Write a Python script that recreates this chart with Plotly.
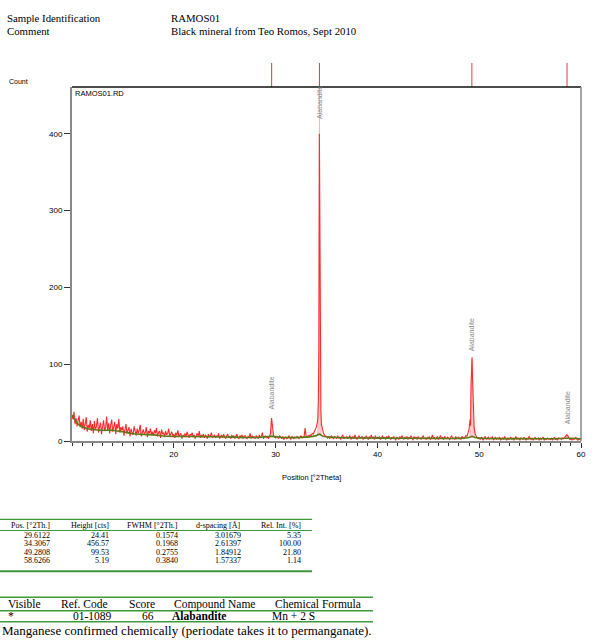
import plotly.graph_objects as go

# ---------------- data ----------------
scan_start = 10.0
scan_step = 0.1
scan_counts = [
    34, 28, 38, 22, 30, 19, 27, 33, 18, 25,
    16, 29, 14, 24, 31, 12, 21, 17, 27, 13,
    22, 10, 26, 15, 19, 30, 11, 18, 24, 9,
    20, 27, 13, 17, 32, 14, 23, 10, 21, 28,
    12, 19, 25, 9, 22, 16, 29, 11, 18, 14,
    19, 7, 15, 22, 10, 13, 18, 6, 16, 11,
    8, 19, 12, 7, 16, 10, 14, 21, 6, 13,
    15, 9, 11, 18, 5, 13, 10, 16, 8, 12,
    7, 14, 10, 17, 6, 11, 13, 4, 15, 9,
    11, 5, 13, 8, 10, 16, 6, 9, 12, 7,
    9, 4, 11, 7, 14, 6, 8, 10, 3, 8,
    6, 10, 5, 12, 8, 4, 9, 7, 11, 5,
    8, 3, 7, 10, 6, 13, 4, 8, 5, 9,
    4, 8, 6, 3, 9, 5, 7, 11, 4, 6,
    8, 4, 7, 5, 10, 3, 6, 8, 4, 9,
    5, 3, 7, 9, 4, 6, 3, 8, 5, 7,
    3, 6, 9, 4, 3, 7, 5, 8, 3, 6,
    7, 4, 3, 6, 5, 10, 3, 7, 4, 6,
    3, 7, 5, 3, 8, 4, 6, 11, 3, 5,
    7, 4, 6, 3, 8, 10, 30, 16, 7, 5,
    4, 6, 4, 3, 7, 5, 3, 6, 2, 4,
    5, 3, 4, 7, 3, 2, 6, 4, 3, 5,
    4, 6, 4, 3, 5, 7, 4, 5, 6, 17,
    6, 5, 7, 6, 8, 7, 10, 9, 12, 14,
    18, 24, 55, 400, 90, 22, 14, 10, 8, 6,
    6, 4, 6, 3, 5, 7, 4, 3, 6, 5,
    3, 7, 4, 5, 2, 6, 8, 3, 5, 4,
    6, 3, 5, 7, 2, 4, 6, 3, 8, 4,
    2, 5, 7, 3, 4, 6, 2, 5, 3, 7,
    4, 2, 6, 3, 8, 4, 5, 2, 7, 3,
    5, 3, 6, 2, 4, 7, 3, 5, 2, 6,
    3, 7, 4, 2, 5, 3, 6, 4, 1, 5,
    4, 2, 6, 3, 7, 4, 2, 5, 3, 6,
    2, 5, 3, 7, 4, 1, 6, 3, 5, 2,
    6, 3, 4, 2, 5, 7, 3, 4, 2, 5,
    3, 6, 2, 4, 8, 3, 5, 2, 4, 6,
    2, 4, 7, 3, 5, 2, 6, 4, 3, 5,
    4, 2, 5, 7, 3, 4, 2, 6, 3, 4,
    5, 3, 2, 6, 4, 3, 5, 7, 6, 10,
    15, 28, 75, 109, 50, 18, 9, 6, 4, 3,
    4, 2, 5, 3, 1, 4, 6, 2, 3, 5,
    2, 4, 3, 6, 1, 3, 5, 2, 4, 3,
    5, 1, 3, 4, 2, 6, 3, 1, 4, 2,
    3, 5, 2, 4, 1, 3, 6, 2, 4, 3,
    1, 4, 3, 2, 5, 3, 1, 4, 2, 6,
    3, 2, 4, 1, 3, 5, 2, 3, 4, 1,
    4, 2, 3, 5, 1, 3, 2, 4, 3, 2,
    2, 4, 1, 3, 5, 2, 3, 1, 4, 3,
    3, 2, 4, 3, 5, 7, 8, 7, 4, 2,
    3, 1, 4, 2, 3, 5, 2, 1, 3, 2,
    3,
]
# extra finely sampled points across the two strongest reflections
fine_2theta = [34.15, 34.25, 34.35, 34.45, 49.15, 49.25, 49.35, 49.45]
fine_counts = [30, 120, 255, 40, 20, 100, 80, 32]

# fitted background (green)
bg_2theta = [10, 10.3, 10.6, 11, 11.5, 12, 13, 14, 15, 16, 17, 18, 19, 20, 22, 24, 26, 28,
             29.6, 31, 33, 34.0, 34.3, 34.6, 36, 38, 40, 42, 44, 46, 48, 49.0, 49.3, 49.6,
             51, 53, 55, 57, 58.6, 60]
bg_counts = [34, 27, 22, 18.5, 16, 15, 14, 14, 12, 9.5, 8.5, 8, 6.5, 6, 5.8, 5.5, 5, 4.5,
             6, 4.5, 5, 7, 9, 6.5, 4.5, 4, 3.8, 3.6, 3.5, 3.4, 3.4, 4.5, 6, 4.5,
             3.2, 3.1, 3.0, 3.0, 3.6, 3.0]

# fitted peak profiles (pink)
profile_2theta = [
    [29.47, 29.55, 29.59, 29.61, 29.64, 29.68, 29.76],
    [34.10, 34.20, 34.26, 34.29, 34.307, 34.33, 34.36, 34.41, 34.50],
    [49.05, 49.16, 49.23, 49.28, 49.33, 49.40, 49.55],
    [58.40, 58.52, 58.63, 58.74, 58.86],
]
profile_counts = [
    [5, 9, 22, 30, 22, 9, 5],
    [7, 25, 120, 380, 465, 330, 160, 40, 7],
    [4, 20, 70, 106, 75, 30, 4],
    [3, 5, 8.5, 5, 3],
]

# peak list
peak_pos = [29.6122, 34.3067, 49.2808, 58.6266]
peak_height = [24.41, 456.57, 99.53, 5.19]
peak_fwhm = [0.1574, 0.1968, 0.2755, 0.3840]
peak_d = [3.01679, 2.61397, 1.84912, 1.57337]
peak_relint = [5.35, 100.00, 21.80, 1.14]
peak_phase = ["Alabandite", "Alabandite", "Alabandite", "Alabandite"]

# reference pattern stick positions (top markers)
ref_pos = [29.6122, 34.3067, 49.2808, 58.6266]

x_ticks = [20, 30, 40, 50, 60]
y_ticks = [0, 100, 200, 300, 400]

table1_headers = ["Pos. [°2Th.]", "Height [cts]", "FWHM [°2Th.]", "d-spacing [Å]", "Rel. Int. [%]"]
table2_headers = ["Visible", "Ref. Code", "Score", "Compound Name", "Chemical Formula"]
table2_row = ["*", "01-1089", "66", "<b>Alabandite</b>", "Mn + 2 S"]

header_labels = ["Sample Identification", "Comment"]
header_values = ["RAMOS01", "Black mineral from Teo Romos, Sept 2010"]
footer_note = "Manganese confirmed chemically (periodate takes it to permanganate)."

# ---------------- layout helpers ----------------
W, H = 600, 642
PL, PR, PT, PB = 72, 581, 87, 441


def px(x):
    return (x - PL) / (PR - PL)


def py(y):
    return (PB - y) / (PB - PT)


SERIF = "Liberation Serif, Times New Roman, serif"
SANS = "Liberation Sans, Arial, sans-serif"
INK = "#000000"

# merge scan grid with fine points
scan_x = [round(scan_start + i * scan_step, 3) for i in range(len(scan_counts))]
pts = sorted(list(zip(scan_x, scan_counts)) + list(zip(fine_2theta, fine_counts)))
sx = [p[0] for p in pts]
sy = [p[1] for p in pts]

fig = go.Figure()

for xs, ys in zip(profile_2theta, profile_counts):
    fig.add_trace(go.Scatter(x=xs, y=ys, mode="lines", fill="toself",
                             fillcolor="rgba(238,160,160,0.5)",
                             line=dict(color="rgba(238,160,160,0.5)", width=1),
                             hoverinfo="skip", showlegend=False))

fig.add_trace(go.Scatter(x=sx, y=sy, mode="lines",
                         line=dict(color="#ff2a2a", width=1.1),
                         showlegend=False))
fig.add_trace(go.Scatter(x=bg_2theta, y=bg_counts, mode="lines",
                         line=dict(color="#5e7a18", width=1.6, shape="spline"),
                         showlegend=False))

shapes = []
# top reference markers
for p in ref_pos:
    shapes.append(dict(type="line", xref="x", yref="paper", x0=p, x1=p,
                       y0=1, y1=py(63), line=dict(color="#e23a3a", width=1)))
# frame: top black, right gray
shapes.append(dict(type="line", xref="paper", yref="paper", x0=0, x1=1, y0=1, y1=1,
                   line=dict(color="#111", width=1.5)))
shapes.append(dict(type="line", xref="paper", yref="paper", x0=1, x1=1, y0=0, y1=1,
                   line=dict(color="#888", width=1.5)))

ann = []


def text(xp, yp, s, size, family, anchor="left", color=INK, **kw):
    ann.append(dict(x=px(xp), y=py(yp), xref="paper", yref="paper", text=s,
                    showarrow=False, xanchor=anchor, yanchor="middle", borderpad=0,
                    font=dict(family=family, size=size, color=color), **kw))


# peak labels
label_bottom = [40, 418, 116, 20]
for p, lb, name in zip(peak_pos, label_bottom, peak_phase):
    ann.append(dict(x=p, y=lb, xref="x", yref="y", text=name, textangle=-90,
                    showarrow=False, xanchor="center", yanchor="bottom", borderpad=0,
                    font=dict(family=SANS, size=7, color="#8a8a8a")))

ann.append(dict(x=px(74), y=py(88), xref="paper", yref="paper", text="RAMOS01.RD",
                showarrow=False, xanchor="left", yanchor="top", borderpad=0,
                font=dict(family=SANS, size=7.5, color=INK)))
text(8, 82, "Count", 7, SANS)
text(311, 477, "Position [°2Theta]", 7.5, SANS, anchor="center")

# header
for i, (lab, val) in enumerate(zip(header_labels, header_values)):
    yy = 18 + i * 13.5
    text(6, yy, lab, 10.8, SERIF)
    text(170, yy, val, 10.8, SERIF)

GREEN = "#3c9a3c"
# table 1
t1_right = [51, 110, 179, 242, 302]
for h, r in zip(table1_headers, t1_right):
    text(r, 525, h, 8, SERIF, anchor="right")
row_y = [535, 543.7, 552, 560.3]
for i in range(len(peak_pos)):
    vals = [f"{peak_pos[i]:.4f}", f"{peak_height[i]:.2f}", f"{peak_fwhm[i]:.4f}",
            f"{peak_d[i]:.5f}", f"{peak_relint[i]:.2f}"]
    for v, r in zip(vals, t1_right):
        text(r, row_y[i], v, 8, SERIF, anchor="right")
for yy, wdt in [(519.3, 1.2), (530.5, 1.0), (571.2, 2.0)]:
    shapes.append(dict(type="line", xref="paper", yref="paper", x0=px(0), x1=px(312),
                       y0=py(yy), y1=py(yy), line=dict(color=GREEN, width=wdt)))

# table 2
t2_head_x = [7, 60, 128, 173, 274]
for h, xx in zip(table2_headers, t2_head_x):
    text(xx, 604, h, 11.5, SERIF)
t2_row_x = [(7, "left"), (113, "right"), (155, "right"), (171, "left"), (271, "left")]
for v, (xx, anc) in zip(table2_row, t2_row_x):
    text(xx, 616, v, 11.5, SERIF, anchor=anc)
for yy in [597.3, 610.7, 621.7]:
    shapes.append(dict(type="line", xref="paper", yref="paper", x0=px(0), x1=px(373),
                       y0=py(yy), y1=py(yy), line=dict(color=GREEN, width=1.6)))
text(1, 630, footer_note, 13, SERIF)

fig.update_layout(
    width=W, height=H, autosize=False,
    margin=dict(l=PL, r=W - PR, t=PT, b=H - PB, pad=0),
    paper_bgcolor="white", plot_bgcolor="white",
    showlegend=False,
    shapes=shapes, annotations=ann,
    xaxis=dict(range=[10, 60], tickmode="array", tickvals=x_ticks,
               ticks="outside", ticklen=5, tickcolor="#333", tickwidth=1,
               showgrid=False, zeroline=False, showline=True, linecolor="#888", linewidth=1.5,
               tickfont=dict(family=SANS, size=8, color=INK),
               minor=dict(dtick=1, tick0=0, ticks="outside", ticklen=3, tickcolor="#333",
                          showgrid=False)),
    yaxis=dict(range=[0, 461], tickmode="array", tickvals=y_ticks,
               ticks="outside", ticklen=6, tickcolor="#333", tickwidth=1,
               showgrid=False, zeroline=False, showline=True, linecolor="#888", linewidth=2,
               tickfont=dict(family=SANS, size=8, color=INK)),
)

fig.write_html("out.html", config={"displayModeBar": False},
               post_script="document.body.style.margin='0';")
